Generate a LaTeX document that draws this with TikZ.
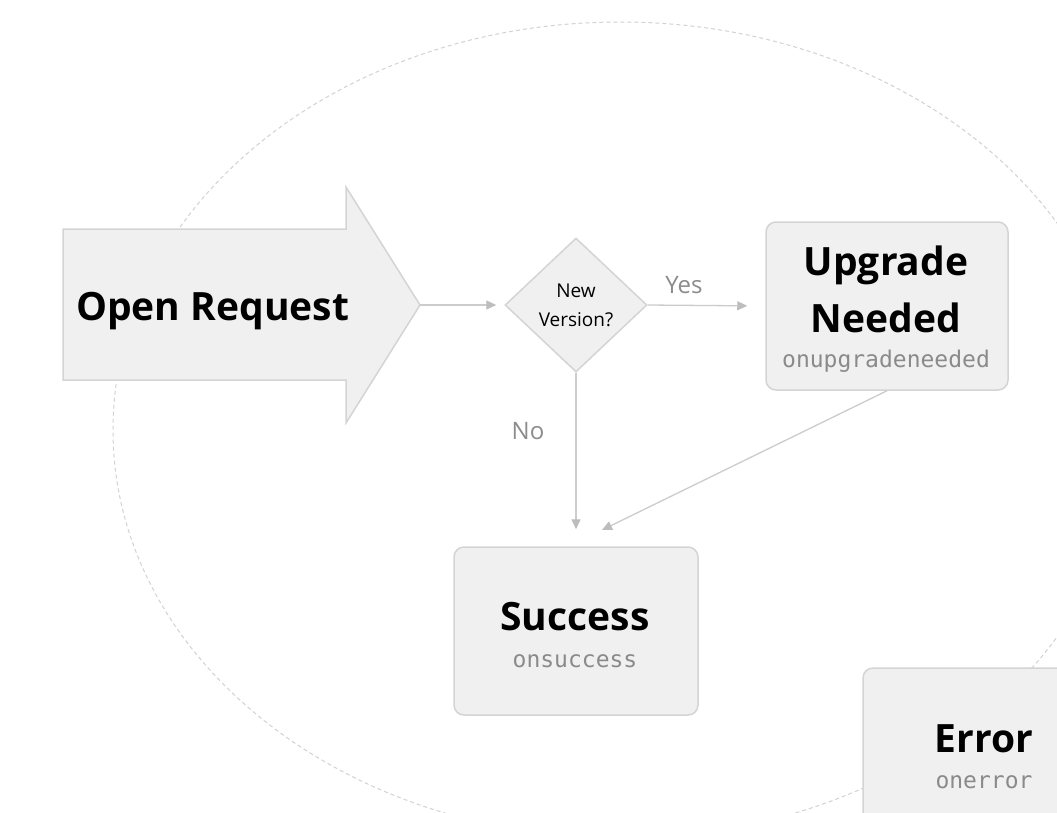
\documentclass[tikz,border=0pt]{standalone}
\usepackage{fontspec}
\setmainfont{Open Sans}
\setmonofont{DejaVu Sans Mono}
\usetikzlibrary{arrows.meta,shapes.geometric}
\definecolor{boxfill}{HTML}{F0F0F0}
\definecolor{boxline}{HTML}{D4D4D4}
\definecolor{connline}{HTML}{CCCCCC}
\definecolor{tipcol}{HTML}{BDBDBD}
\definecolor{labelgray}{HTML}{8C8C8C}
\definecolor{monogray}{HTML}{8A8A8A}
\definecolor{ringcol}{HTML}{D2D2D2}
\tikzset{
  box/.style={draw=boxline, fill=boxfill, line width=1.5pt, rounded corners=10pt,
    minimum width=242pt, minimum height=168pt, inner sep=0pt},
  head/.style={font=\fontsize{39}{45}\selectfont\bfseries, anchor=base, inner sep=0pt},
  mono/.style={font=\fontsize{23}{26}\selectfont\ttfamily, text=monogray, anchor=base, inner sep=0pt},
  conn/.style={draw=connline, line width=1.3pt, -{Triangle[length=10pt,width=9pt,color=tipcol]}},
  lbl/.style={font=\fontsize{24}{28}\selectfont, text=labelgray, anchor=base, inner sep=0pt},
  ring/.style={draw=ringcol, line width=1pt, dash pattern=on 4pt off 3pt}
}
\begin{document}
\begin{tikzpicture}[x=1pt,y=-1pt]
\useasboundingbox (0,0) rectangle (1057,812);
\clip (0,0) rectangle (1057,812);
\fill[white] (0,0) rectangle (1057,812);
% dashed ring
\draw[ring] (620,430) ellipse [x radius=507, y radius=408];
% open request arrow
\draw[draw=boxline, fill=boxfill, line width=1.5pt, line join=miter]
  (63,229) -- (346,229) -- (346,187) -- (420,305) -- (346,423) -- (346,380) -- (63,380) -- cycle;
\coordinate (ortip) at (420,305);
\node[head, anchor=base west] (ortext) at (76,320) {Open Request};
% decision
\node[draw=boxline, fill=boxfill, line width=1.5pt, diamond, minimum width=142pt, minimum height=134pt,
  inner sep=0pt, align=center, font=\fontsize{19}{29}\selectfont] (dia) at (576,305) {New\\Version?};
% boxes
\node[box] (up) at (887,306) {};
\node[head] (uptext1) at (886,275) {Upgrade};
\node[head] (uptext2) at (886,332) {Needed};
\node[mono] (upmono) at (886,367) {onupgradeneeded};
\node[box, minimum width=244pt] (succ) at (576,631) {};
\node[head] (succtext) at (575,630) {Success};
\node[mono] (succmono) at (575,667) {onsuccess};
\node[box, minimum width=244pt] (err) at (985,752) {};
\node[head] (errtext) at (984,752) {Error};
\node[mono] (errmono) at (984,788) {onerror};
% connectors
\coordinate (sx) at (602,530);
\draw[conn, shorten >=8pt] (ortip) -- (dia.west);
\draw[conn, shorten >=18pt] (dia.east) -- (up.west);
\draw[conn, shorten >=17pt] (dia.south) -- (succ.north);
\draw[conn] (up.south) -- (sx);
% labels
\node[lbl] (yes) at (684,293) {Yes};
\node[lbl] (no) at (528,439) {No};
\end{tikzpicture}
\end{document}
